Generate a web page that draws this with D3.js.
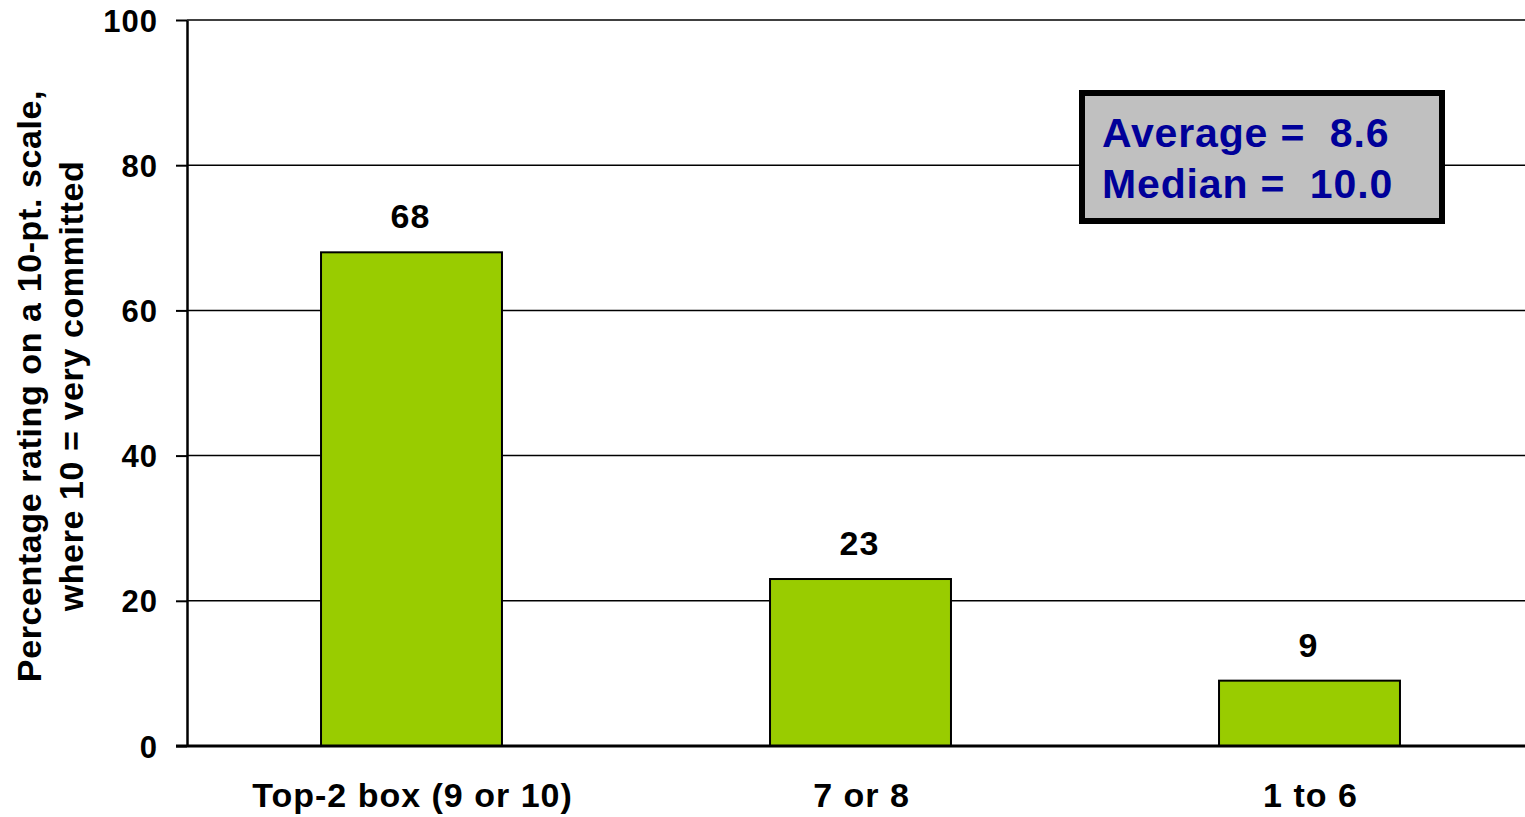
<!DOCTYPE html>
<html>
<head>
<meta charset="utf-8">
<script src="https://cdn.jsdelivr.net/npm/d3@7"></script>
<style>
  html, body { margin: 0; padding: 0; background: #fff; overflow: hidden; }
  svg { display: block; font-family: Arial, "Liberation Sans", sans-serif; }
</style>
</head>
<body>
<svg id="chart" width="1525" height="817"></svg>
<script>
const categories = ["Top-2 box (9 or 10)", "7 or 8", "1 to 6"];
const values = [68, 23, 9];
const yTicks = [0, 20, 40, 60, 80, 100];
const axisTitleLines = ["Percentage rating on a 10-pt. scale,", "where 10 = very committed"];
const statLines = ["Average =  8.6", "Median =  10.0"];

(function () {
const svg = d3.select("#chart");
const pLeft = 187, pRight = 1534, pTop = 20, pBottom = 746;

const x = d3.scaleBand().domain(categories).range([pLeft, pRight])
  .paddingInner(0.597).paddingOuter(0.2985);
const y = d3.scaleLinear().domain([0, 100]).range([pBottom, pTop]);

// gridlines
svg.append("g").selectAll("line").data(yTicks.filter(d => d > 0)).join("line")
  .attr("x1", pLeft).attr("x2", 1525)
  .attr("y1", d => y(d)).attr("y2", d => y(d))
  .attr("stroke", "#000").attr("stroke-width", 1.5);

// y axis
const yAxis = d3.axisLeft(y).tickValues(yTicks).tickSize(11).tickPadding(18).tickSizeOuter(0);
const gy = svg.append("g").attr("transform", `translate(${pLeft},0)`).call(yAxis);
gy.select(".domain").attr("stroke", "#000").attr("stroke-width", 2.5);
gy.selectAll(".tick line").attr("stroke", "#000").attr("stroke-width", 2);
gy.selectAll(".tick text").attr("font-size", 31).attr("font-weight", "bold")
  .attr("fill", "#000").attr("font-family", "Arial, 'Liberation Sans', sans-serif")
  .attr("letter-spacing", 1).attr("dy", "0.36em");

// bars
svg.append("g").selectAll("rect").data(categories).join("rect")
  .attr("x", d => x(d)).attr("width", x.bandwidth())
  .attr("y", (d, i) => y(values[i])).attr("height", (d, i) => y(0) - y(values[i]))
  .attr("fill", "#99cc00").attr("stroke", "#000").attr("stroke-width", 2);

// baseline
svg.append("line").attr("x1", pLeft - 11).attr("x2", 1525)
  .attr("y1", y(0)).attr("y2", y(0)).attr("stroke", "#000").attr("stroke-width", 3);

// value labels
svg.append("g").selectAll("text").data(categories).join("text")
  .attr("x", d => x(d) + x.bandwidth() / 2 - 1)
  .attr("y", (d, i) => y(values[i]) - 24)
  .attr("text-anchor", "middle").attr("font-size", 34).attr("font-weight", "bold")
  .attr("letter-spacing", 1)
  .text((d, i) => values[i]);

// category labels
svg.append("g").selectAll("text").data(categories).join("text")
  .attr("x", d => x(d) + x.bandwidth() / 2 + 1).attr("y", 807)
  .attr("text-anchor", "middle").attr("font-size", 34).attr("font-weight", "bold")
  .attr("letter-spacing", 1)
  .text(d => d);

// axis title
const at = svg.append("text").attr("transform", "translate(41,386) rotate(-90)")
  .attr("text-anchor", "middle").attr("font-size", 34).attr("font-weight", "bold")
  .attr("letter-spacing", 0.6);
axisTitleLines.forEach((t, i) => {
  at.append("tspan").attr("x", 0).attr("y", i * 42).text(t);
});

// stats box
svg.append("rect").attr("x", 1082).attr("y", 93).attr("width", 360).attr("height", 128)
  .attr("fill", "#c0c0c0").attr("stroke", "#000").attr("stroke-width", 6);
svg.append("g").selectAll("text").data(statLines).join("text")
  .attr("x", 1102).attr("y", (d, i) => 147 + i * 51)
  .attr("font-size", 41).attr("font-weight", "bold").attr("fill", "#000099")
  .attr("letter-spacing", 0.85)
  .attr("xml:space", "preserve").style("white-space", "pre")
  .text(d => d);
})();
</script>
</body>
</html>
